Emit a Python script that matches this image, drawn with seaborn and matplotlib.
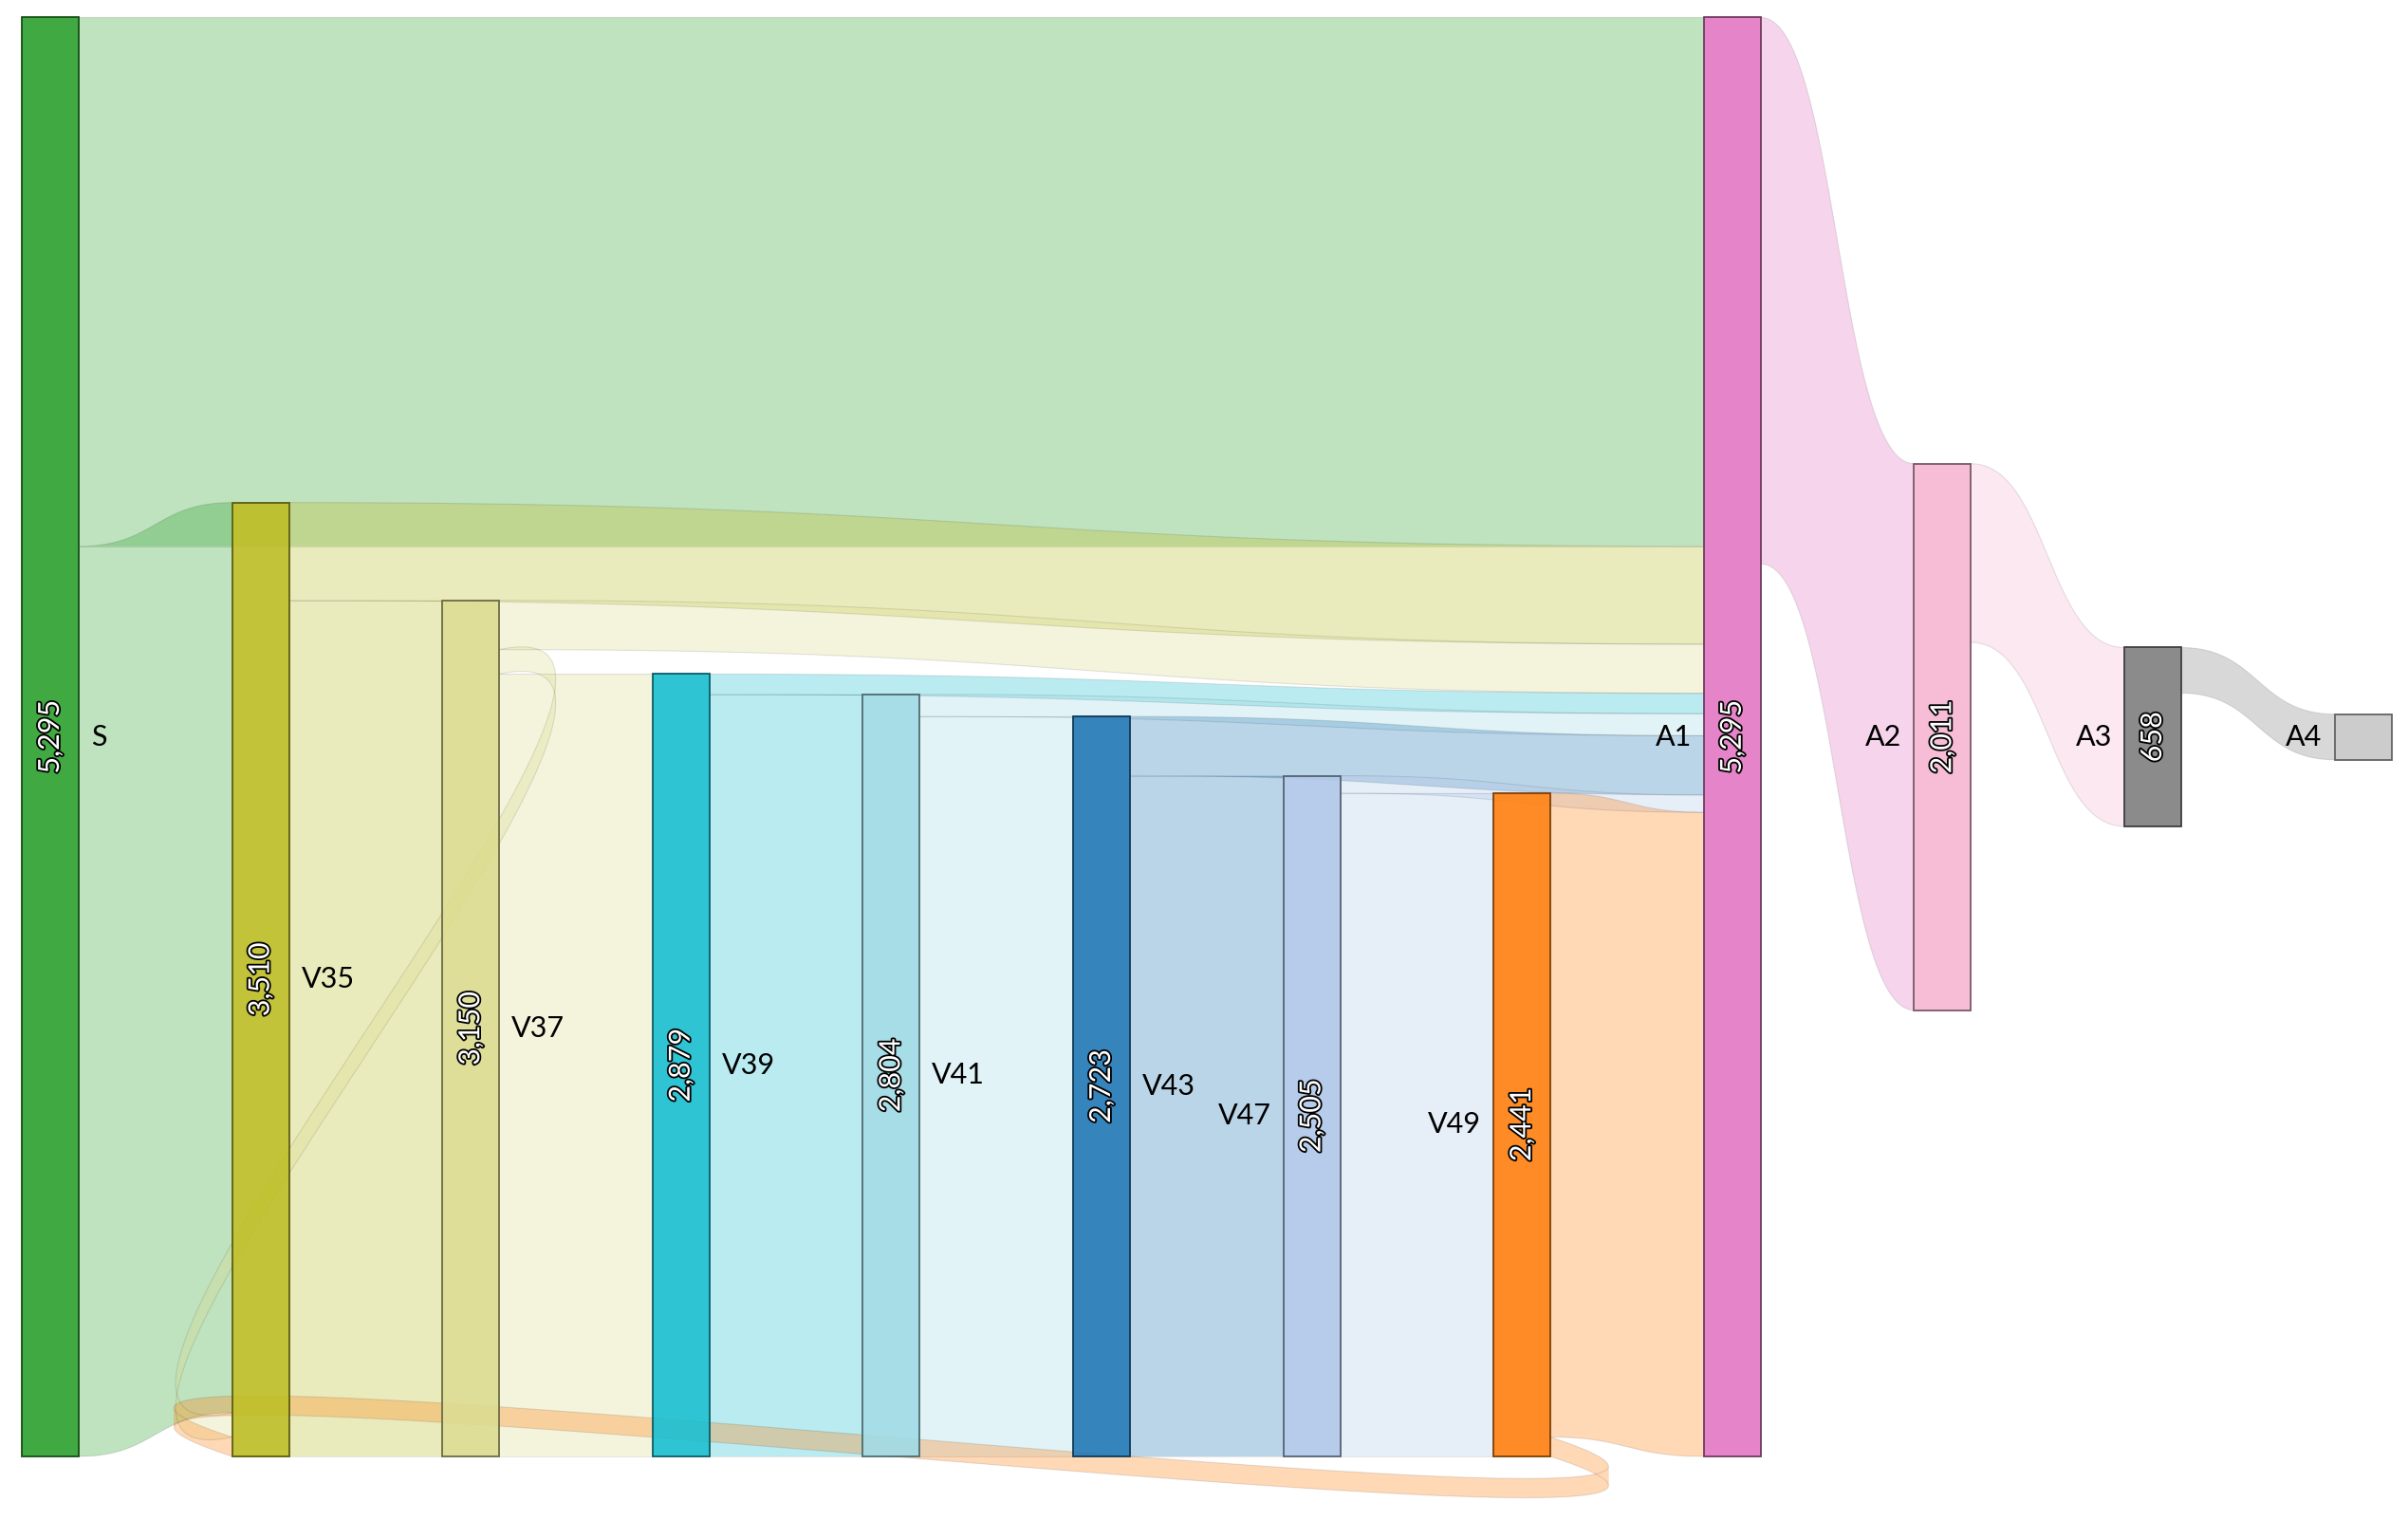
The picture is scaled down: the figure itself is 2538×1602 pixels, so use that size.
import numpy as np
import matplotlib
matplotlib.use("Agg")
import matplotlib.pyplot as plt
import matplotlib.patheffects as pe
from matplotlib.path import Path
from matplotlib.patches import PathPatch, Rectangle
import seaborn as sns

# --- data ---------------------------------------------------------------
node_names = ["S", "V35", "V37", "V39", "V41", "V43", "V47", "V49",
              "A1", "A2", "A3", "A4"]
node_columns = [0, 1, 2, 3, 4, 5, 6, 7, 8, 9, 10, 11]
node_groups = ["source", "visit", "visit", "visit", "visit", "visit", "visit", "visit",
               "after", "after", "after", "after"]
node_palette_idx = [4, 16, 17, 18, 19, 0, 1, 2, 12, 13, 14, 15]   # tab20

link_sources = ["S", "S", "V35", "V35", "V37", "V37", "V37", "V39", "V39",
                "V41", "V41", "V43", "V43", "V47", "V47", "V49", "V49",
                "A1", "A2", "A3"]
link_targets = ["A1", "V35", "A1", "V37", "A1", "V35", "V39", "A1", "V41",
                "A1", "V43", "A1", "V47", "A1", "V49", "A1", "V35",
                "A2", "A3", "A4"]
link_values = [1946, 3349, 360, 3150, 181, 90, 2879, 75, 2804,
               81, 2723, 218, 2505, 64, 2441, 2370, 71,
               2011, 658, 168]

# shape of the two links that run backwards (control offset in columns, bend in flow units)
loop_shape = {("V37", "V35"): (1.29, -210), ("V49", "V35"): (2.08, 527)}

# --- layout constants (pixels of the 2538x1602 canvas) -------------------
W, H = 2538, 1602
COL_PX = 221.6
LEFT_PX = 23
NODE_PX = 60
TOP_PX = 18.4
BOTTOM_PX = 1535
LABEL_GAP_PX = 13


def bezier(p0, p1, p2, p3, t):
    t = t[:, None]
    return ((1 - t) ** 3 * p0 + 3 * (1 - t) ** 2 * t * p1
            + 3 * (1 - t) * t ** 2 * p2 + t ** 3 * p3)


def band_path(top, width):
    """Union of quads between the top curve and the same curve shifted by width."""
    bot = top + np.array([0, width])
    verts, codes = [], []
    for i in range(len(top) - 1):
        quad = np.array([top[i], top[i + 1], bot[i + 1], bot[i]])
        x, y = quad[:, 0], quad[:, 1]
        area = np.sum(x * np.roll(y, -1) - np.roll(x, -1) * y)
        if area < 0:
            quad = quad[::-1]
        verts.extend(list(quad) + [quad[0]])
        codes.extend([Path.MOVETO, Path.LINETO, Path.LINETO, Path.LINETO, Path.CLOSEPOLY])
    return Path(np.array(verts), codes), bot


def main():
    sns.set_theme(style="white")
    plt.rcParams['font.family'] = ['Lato', 'DejaVu Sans']
    palette = sns.color_palette("tab20")

    colors = {n: palette[i] for n, i in zip(node_names, node_palette_idx)}
    cols = dict(zip(node_names, node_columns))
    groups = dict(zip(node_names, node_groups))

    inflow = {n: 0 for n in node_names}
    outflow = {n: 0 for n in node_names}
    for s, t, v in zip(link_sources, link_targets, link_values):
        outflow[s] += v
        inflow[t] += v
    node_values = {n: max(inflow[n], outflow[n]) for n in node_names}
    total = max(node_values.values())

    ky = (BOTTOM_PX - TOP_PX) / total
    nw = NODE_PX / COL_PX

    node_top = {}
    for n in node_names:
        if groups[n] == "source":
            node_top[n] = 0
        elif groups[n] == "visit":
            node_top[n] = total - node_values[n]
        else:
            node_top[n] = (total - node_values[n]) / 2

    fig = plt.figure(figsize=(W / 100, H / 100), dpi=100)
    ax = fig.add_axes([0, 0, 1, 1])
    ax.set_xlim(-LEFT_PX / COL_PX, (W - LEFT_PX) / COL_PX)
    ax.set_ylim(total + (H - BOTTOM_PX) / ky, -TOP_PX / ky)
    ax.axis('off')

    # links
    src_off = dict(node_top)
    tgt_off = dict(node_top)
    tt = np.linspace(0, 1, 240)
    for s, t, v in zip(link_sources, link_targets, link_values):
        ys, yt = src_off[s], tgt_off[t]
        src_off[s] += v
        tgt_off[t] += v
        xs = cols[s] + nw
        xt = cols[t]
        if (s, t) in loop_shape:
            d, h = loop_shape[(s, t)]
            pts = [(xs, ys), (xs + d, ys + h), (xt - d, yt - h), (xt, yt)]
        else:
            xm = (xs + xt) / 2
            pts = [(xs, ys), (xm, ys), (xm, yt), (xt, yt)]
        pts = [np.array(p, dtype=float) for p in pts]
        top = bezier(*pts, tt)
        path, bot = band_path(top, v)
        ax.add_patch(PathPatch(path, facecolor=colors[s], alpha=0.3,
                               edgecolor='none', zorder=1))
        for edge in (top, bot):
            ax.plot(edge[:, 0], edge[:, 1], color=(0, 0, 0, 0.1), lw=0.8, zorder=1.5)

    # nodes
    for n in node_names:
        c = np.array(colors[n])
        x0, y0, v = cols[n], node_top[n], node_values[n]
        ax.add_patch(Rectangle((x0, y0), nw, v, facecolor=(*c, 0.9),
                               edgecolor=c * 0.49, lw=1.3, zorder=2))
        yc = y0 + v / 2
        if x0 * COL_PX + LEFT_PX < W / 2:
            ax.text(x0 + nw + LABEL_GAP_PX / COL_PX, yc, n, ha='left', va='center',
                    fontsize=22, color='black', zorder=3)
        else:
            ax.text(x0 - LABEL_GAP_PX / COL_PX, yc, n, ha='right', va='center',
                    fontsize=22, color='black', zorder=3)
        if v * ky > 90:
            ax.text(x0 + nw / 2, yc, f"{v:,}", rotation=90, ha='center', va='center',
                    fontsize=22, color='white', zorder=3,
                    path_effects=[pe.withStroke(linewidth=2.6, foreground='black')])

    fig.savefig("out.png", dpi=100, facecolor='white')
    plt.close(fig)


if __name__ == "__main__":
    main()
